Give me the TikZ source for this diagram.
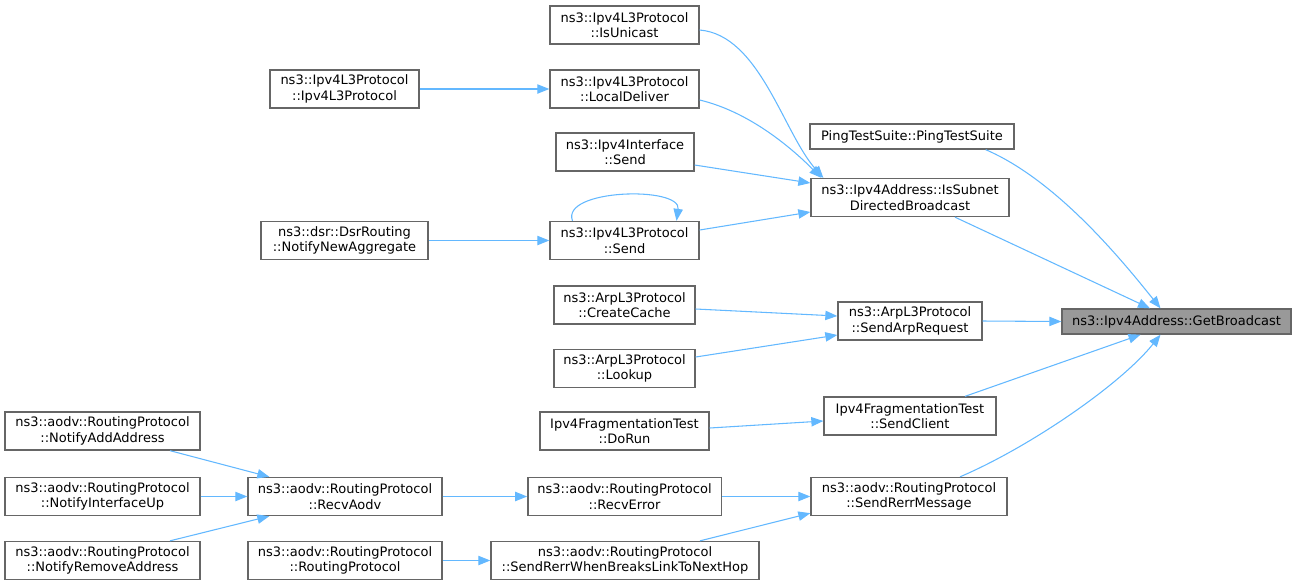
\documentclass[tikz,border=0pt]{standalone}
\usepackage{fontspec}
\setmainfont{DejaVu Sans}
\usetikzlibrary{arrows.meta,calc}
\definecolor{grey40}{HTML}{666666}
\definecolor{grey60}{HTML}{999999}
\definecolor{steelblue}{HTML}{63B8FF}
\tikzset{
  fn/.style={draw=grey40, fill=white, line width=1pt, inner sep=0pt, align=center,
    minimum height=28.5pt, font=\fontsize{9.75}{11.5}\selectfont},
  root/.style={fn, fill=grey60, minimum height=18.75pt},
  call/.style={draw=steelblue, line width=0.8pt, -{Triangle[length=9pt,width=7pt]}}
}
\begin{document}
\begin{tikzpicture}[x=0.75pt,y=-0.75pt]
    \useasboundingbox (0,0) rectangle (1296,587);
    % Called function
    \node[root, minimum width=171.75pt] (gb) at (1176.5,321.5) {ns3::Ipv4Address::GetBroadcast};
    % Direct callers
    \node[fn, minimum width=153pt, minimum height=18.75pt] (ping) at (912,136.5) {PingTestSuite::PingTestSuite};
    \node[fn, minimum width=148.5pt] (subnet) at (910,197.5) {ns3::Ipv4Address::IsSubnet\\DirectedBroadcast};
    \node[fn, minimum width=108pt] (arpreq) at (910,321) {ns3::ArpL3Protocol\\::SendArpRequest};
    \node[fn, minimum width=129pt] (client) at (910,416) {Ipv4FragmentationTest\\::SendClient};
    \node[fn, minimum width=147pt] (rerr) at (909,496.5) {ns3::aodv::RoutingProtocol\\::SendRerrMessage};
    % Second column
    \node[fn, minimum width=111.75pt] (unicast) at (624.5,25) {ns3::Ipv4L3Protocol\\::IsUnicast};
    \node[fn, minimum width=111.75pt] (deliver) at (624.5,89) {ns3::Ipv4L3Protocol\\::LocalDeliver};
    \node[fn, minimum width=103.5pt] (ifsend) at (625,152) {ns3::Ipv4Interface\\::Send};
    \node[fn, minimum width=111.75pt] (l3send) at (624.5,240.5) {ns3::Ipv4L3Protocol\\::Send};
    \node[fn, minimum width=105.75pt] (cache) at (624.5,305) {ns3::ArpL3Protocol\\::CreateCache};
    \node[fn, minimum width=105.75pt] (lookup) at (624.5,368.5) {ns3::ArpL3Protocol\\::Lookup};
    \node[fn, minimum width=126.75pt] (dorun) at (624.5,431) {Ipv4FragmentationTest\\::DoRun};
    \node[fn, minimum width=145pt] (recverr) at (624.5,496.5) {ns3::aodv::RoutingProtocol\\::RecvError};
    \node[fn, minimum width=201pt] (breaks) at (625,560.5) {ns3::aodv::RoutingProtocol\\::SendRerrWhenBreaksLinkToNextHop};
    % Third column
    \node[fn, minimum width=111.75pt] (l3ctor) at (344.5,89) {ns3::Ipv4L3Protocol\\::Ipv4L3Protocol};
    \node[fn, minimum width=125.25pt] (dsr) at (344.5,240.5) {ns3::dsr::DsrRouting\\::NotifyNewAggregate};
    \node[fn, minimum width=145.5pt] (aodv) at (345,496.5) {ns3::aodv::RoutingProtocol\\::RecvAodv};
    \node[fn, minimum width=145.5pt] (rpctor) at (345,560.5) {ns3::aodv::RoutingProtocol\\::RoutingProtocol};
    % Fourth column
    \node[fn, minimum width=146.25pt] (addaddr) at (102.5,431) {ns3::aodv::RoutingProtocol\\::NotifyAddAddress};
    \node[fn, minimum width=146.25pt] (ifup) at (102.5,496.5) {ns3::aodv::RoutingProtocol\\::NotifyInterfaceUp};
    \node[fn, minimum width=146.25pt] (rmaddr) at (102.5,560.5) {ns3::aodv::RoutingProtocol\\::NotifyRemoveAddress};
    % Edges into GetBroadcast
    \draw[call] ($(ping.south east)+(-29,0)$) .. controls +(70,30) and +(-40,-50) .. ($(gb.north)+(-16,0)$);
    \draw[call] ($(subnet.south)+(45,0)$) -- ($(gb.north)+(-26.5,0)$);
    \draw[call] (arpreq.east) -- (gb.west);
    \draw[call] ($(client.north)+(55,0)$) -- ($(gb.south)+(-36,0)$);
    \draw[call] ($(rerr.north)+(51,0)$) .. controls +(70,-30) and +(-40,50) .. ($(gb.south)+(-16,0)$);
    % Edges into IsSubnetDirectedBroadcast
    \draw[call] ($(unicast.east)+(0,5)$) .. controls +(60,5) and +(-40,-45) .. ($(subnet.north west)+(13,0)$);
    \draw[call] ($(deliver.east)+(0,11)$) .. controls +(50,12) and +(-30,-30) .. ($(subnet.north west)+(11,0)$);
    \draw[call] ($(ifsend.east)+(0,13)$) -- ($(subnet.west)+(0,-14.5)$);
    \draw[call] ($(l3send.east)+(0,-10.5)$) -- ($(subnet.west)+(0,14.5)$);
    \draw[call] (l3ctor) -- (deliver);
    \draw[call] ($(l3send.north)+(-52,0)$) .. controls +(-12,-32) and +(5,-35) .. ($(l3send.north)+(52,0)$);
    \draw[call] (dsr) -- (l3send);
    % Edges into SendArpRequest and SendClient
    \draw[call] ($(cache.east)+(0,4)$) -- ($(arpreq.west)+(0,-5)$);
    \draw[call] ($(lookup.east)+(0,-11.5)$) -- ($(arpreq.west)+(0,14)$);
    \draw[call] ($(dorun.east)+(0,-3)$) -- ($(client.west)+(0,5)$);
    % Edges into SendRerrMessage
    \draw[call] (recverr) -- (rerr);
    \draw[call] ($(breaks.north)+(75,0)$) -- ($(rerr.south west)+(0,-3)$);
    \draw[call] (aodv) -- (recverr);
    \draw[call] (rpctor) -- (breaks);
    \draw[call] ($(addaddr.south)+(67.5,0)$) -- ($(aodv.north west)+(22,0)$);
    \draw[call] (ifup) -- (aodv);
    \draw[call] ($(rmaddr.north)+(67.5,0)$) -- ($(aodv.south west)+(22,0)$);
\end{tikzpicture}
\end{document}
